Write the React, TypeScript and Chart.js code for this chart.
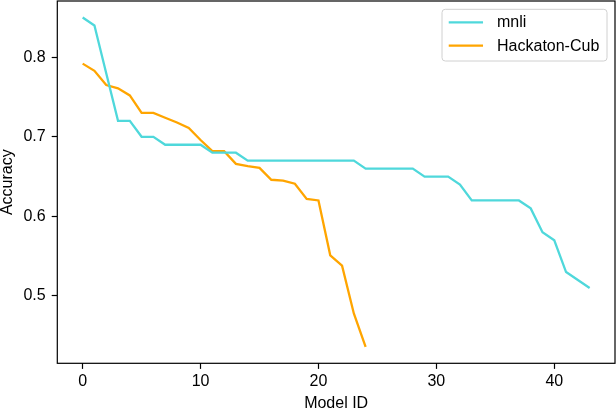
import React, { useEffect, useRef } from "react";
import { Chart, registerables } from "chart.js";

Chart.register(...registerables);

// ---- data ----
const seriesLabels = ["mnli", "Hackaton-Cub"];
const mnli = [
  0.85, 0.84, 0.78, 0.72, 0.72, 0.7, 0.7, 0.69, 0.69, 0.69, 0.69, 0.68, 0.68, 0.68,
  0.67, 0.67, 0.67, 0.67, 0.67, 0.67, 0.67, 0.67, 0.67, 0.67,
  0.66, 0.66, 0.66, 0.66, 0.66,
  0.65, 0.65, 0.65, 0.64,
  0.62, 0.62, 0.62, 0.62, 0.62,
  0.61, 0.58, 0.57, 0.53, 0.52, 0.51,
];
const hackatonCub = [
  0.792, 0.783, 0.765, 0.761, 0.752, 0.73, 0.73, 0.724, 0.718, 0.711, 0.696, 0.682,
  0.682, 0.666, 0.663, 0.661, 0.646, 0.645, 0.641, 0.622, 0.62, 0.551, 0.538, 0.478,
  0.436,
];
const xTicks = [0, 10, 20, 30, 40];
const yTicks = [0.5, 0.6, 0.7, 0.8];
const xTitle = "Model ID";
const yTitle = "Accuracy";

// ---- styles ----
const COLORS = ["#4fd8db", "#ffa500"];
const FONT = "'Liberation Sans', Arial, sans-serif";

const framePlugin = {
  id: "mplFrame",
  afterDatasetsDraw(chart: any) {
    const { ctx, chartArea: a } = chart;
    ctx.save();
    ctx.strokeStyle = "#000";
    ctx.lineWidth = 1.2;
    ctx.strokeRect(a.left, a.top, a.right - a.left, a.bottom - a.top);
    ctx.restore();
  },
};

const legendPlugin = {
  id: "mplLegend",
  afterDraw(chart: any) {
    const { ctx, chartArea: a } = chart;
    const fs = 16;
    ctx.save();
    ctx.font = `${fs}px ${FONT}`;
    const items = chart.data.datasets.map((d: any) => ({ label: d.label, color: d.borderColor }));
    const textW = Math.max(...items.map((i: any) => ctx.measureText(i.label).width));
    const padL = 6.7, handle = 34.3, gap = 14, padR = 7.7;
    const w = padL + handle + gap + textW + padR;
    const right = a.right - 8;
    const top = a.top + 8.3;
    const left = right - w;
    const h = 51.7;
    ctx.beginPath();
    (ctx as any).roundRect(left, top, w, h, 3.2);
    ctx.fillStyle = "rgba(255,255,255,0.8)";
    ctx.fill();
    ctx.strokeStyle = "#d0d0d0";
    ctx.lineWidth = 1;
    ctx.stroke();
    items.forEach((it: any, i: number) => {
      const y = top + 13 + i * 23.4;
      ctx.beginPath();
      ctx.strokeStyle = it.color;
      ctx.lineWidth = 2.3;
      ctx.moveTo(left + padL, y);
      ctx.lineTo(left + padL + handle, y);
      ctx.stroke();
      ctx.fillStyle = "#000";
      ctx.textBaseline = "middle";
      ctx.textAlign = "left";
      ctx.fillText(it.label, left + padL + handle + gap, y + 0.5);
    });
    ctx.restore();
  },
};

export default function App() {
  const ref = useRef<HTMLCanvasElement | null>(null);

  useEffect(() => {
    document.body.style.margin = "0";
    const canvas = ref.current;
    if (!canvas) return;

    const allY = [...mnli, ...hackatonCub];
    const yMinD = Math.min(...allY);
    const yMaxD = Math.max(...allY);
    const ySpan = yMaxD - yMinD;
    const xMaxD = Math.max(mnli.length, hackatonCub.length) - 1;

    const zeroPad = (s: any) => {
      s.paddingTop = 0;
      s.paddingBottom = 0;
      s.paddingLeft = 0;
      s.paddingRight = 0;
    };

    const chart = new Chart(canvas, {
      type: "line",
      data: {
        datasets: [
          {
            label: seriesLabels[0],
            data: mnli.map((v, i) => ({ x: i, y: v })),
            borderColor: COLORS[0],
            backgroundColor: COLORS[0],
            borderWidth: 2.3,
            pointRadius: 0,
            tension: 0,
          },
          {
            label: seriesLabels[1],
            data: hackatonCub.map((v, i) => ({ x: i, y: v })),
            borderColor: COLORS[1],
            backgroundColor: COLORS[1],
            borderWidth: 2.3,
            pointRadius: 0,
            tension: 0,
          },
        ],
      },
      options: {
        animation: false,
        responsive: false,
        devicePixelRatio: 1,
        layout: { padding: { top: 1, right: 1, left: 0, bottom: 0 } },
        plugins: {
          legend: { display: false },
          tooltip: { enabled: false },
        },
        scales: {
          x: {
            type: "linear",
            min: -0.05 * xMaxD,
            max: xMaxD * 1.05,
            afterFit: (s: any) => {
              s.height = 46.7;
              zeroPad(s);
            },
            afterBuildTicks: (s: any) => {
              s.ticks = xTicks.map((v) => ({ value: v }));
            },
            grid: {
              drawOnChartArea: false,
              drawTicks: true,
              tickLength: 5.6,
              tickWidth: 1.2,
              tickColor: "#000",
            },
            border: { display: false },
            ticks: {
              color: "#000",
              padding: 3.5,
              maxRotation: 0,
              autoSkip: false,
              font: { family: FONT, size: 16 },
            },
            title: {
              display: true,
              text: xTitle,
              color: "#000",
              font: { family: FONT, size: 16, lineHeight: 1 },
              padding: { top: 0, bottom: -2 },
            },
          },
          y: {
            type: "linear",
            min: yMinD - 0.05 * ySpan,
            max: yMaxD + 0.05 * ySpan,
            afterFit: (s: any) => {
              s.width = 57.3;
              zeroPad(s);
            },
            afterBuildTicks: (s: any) => {
              s.ticks = yTicks.map((v) => ({ value: v }));
            },
            grid: {
              drawOnChartArea: false,
              drawTicks: true,
              tickLength: 5.6,
              tickWidth: 1.2,
              tickColor: "#000",
            },
            border: { display: false },
            ticks: {
              color: "#000",
              padding: 6,
              autoSkip: false,
              font: { family: FONT, size: 16 },
              callback: (v: any) => Number(v).toFixed(1),
            },
            title: {
              display: true,
              text: yTitle,
              color: "#000",
              font: { family: FONT, size: 16, lineHeight: 1 },
              padding: { top: 0, bottom: 0 },
            },
          },
        },
      },
      plugins: [framePlugin, legendPlugin],
    } as any);

    return () => chart.destroy();
  }, []);

  return (
    <div style={{ position: "fixed", left: 0, top: 0, width: 616, height: 410, background: "#fff" }}>
      <canvas ref={ref} width={616} height={410} style={{ width: 616, height: 410, display: "block" }} />
    </div>
  );
}
